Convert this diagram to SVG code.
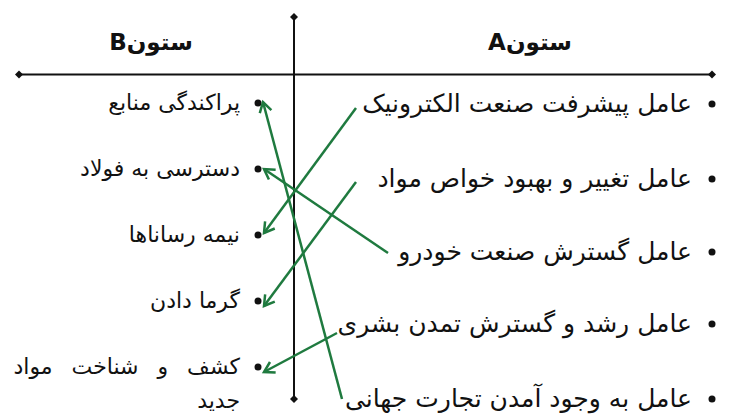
<svg xmlns="http://www.w3.org/2000/svg" width="740" height="416" viewBox="0 0 740 416">
<defs>
<style>
.t{font-family:"DejaVu Sans","Noto Sans",sans-serif;font-size:22px;fill:#111;direction:rtl;text-anchor:start}
.r{font-size:25px}
.h{font-family:"DejaVu Sans","Noto Sans",sans-serif;font-size:23px;font-weight:bold;fill:#111;direction:rtl;text-anchor:middle}
.ax{stroke:#111;stroke-width:2;fill:none}
.c{stroke:#1f7a3f;stroke-width:2.5;fill:none;marker-end:url(#ah)}
.b{fill:#111}
</style>
<marker id="dm" markerUnits="userSpaceOnUse" markerWidth="10" markerHeight="10" refX="5" refY="5" orient="auto">
<path d="M1,5 L5,1 L9,5 L5,9 Z" fill="#111"/>
</marker>
<marker id="ah" markerUnits="userSpaceOnUse" markerWidth="16" markerHeight="16" refX="13" refY="8" orient="auto">
<path d="M3,2 L13,8 L3,14" fill="none" stroke="#1f7a3f" stroke-width="2.5"/>
</marker>
</defs>
<g id="axes">
<line class="ax" x1="294" y1="17" x2="294" y2="399" marker-start="url(#dm)" marker-end="url(#dm)"/>
<line class="ax" x1="19" y1="74.5" x2="712" y2="74.5" marker-start="url(#dm)" marker-end="url(#dm)"/>
</g>
<g id="headerB"><text class="h" x="151" y="50">ستونB</text></g>
<g id="headerA"><text class="h" x="530" y="50">ستونA</text></g>
<g id="a1"><circle class="b" cx="712" cy="104" r="3.5"/><text class="t r" x="692" y="112">عامل پیشرفت صنعت الکترونیک</text></g>
<g id="a2"><circle class="b" cx="712" cy="179" r="3.5"/><text class="t r" x="692" y="187">عامل تغییر و بهبود خواص مواد</text></g>
<g id="a3"><circle class="b" cx="712" cy="252" r="3.5"/><text class="t r" x="692" y="260">عامل گسترش صنعت خودرو</text></g>
<g id="a4"><circle class="b" cx="712" cy="324" r="3.5"/><text class="t r" x="692" y="332">عامل رشد و گسترش تمدن بشری</text></g>
<g id="a5"><circle class="b" cx="712" cy="399" r="3.5"/><text class="t r" x="692" y="407">عامل به وجود آمدن تجارت جهانی</text></g>
<g id="b1"><circle class="b" cx="258" cy="103" r="3.5"/><text class="t" x="240" y="110">پراکندگی منابع</text></g>
<g id="b2"><circle class="b" cx="258" cy="169" r="3.5"/><text class="t" x="240" y="176">دسترسی به فولاد</text></g>
<g id="b3"><circle class="b" cx="258" cy="235" r="3.5"/><text class="t" x="240" y="242">نیمه رساناها</text></g>
<g id="b4"><circle class="b" cx="258" cy="301" r="3.5"/><text class="t" x="240" y="308">گرما دادن</text></g>
<g id="b5"><circle class="b" cx="258" cy="367" r="3.5"/><text class="t" x="240" y="374" word-spacing="12">کشف و شناخت مواد</text><text class="t" x="240" y="408">جدید</text></g>
<g id="connectors">
<line class="c" x1="356" y1="108" x2="264" y2="233"/>
<line class="c" x1="356" y1="182" x2="264" y2="306"/>
<line class="c" x1="388" y1="253" x2="264" y2="169"/>
<line class="c" x1="337" y1="333" x2="264" y2="372"/>
<line class="c" x1="342" y1="399" x2="263" y2="102"/>
</g>
</svg>
